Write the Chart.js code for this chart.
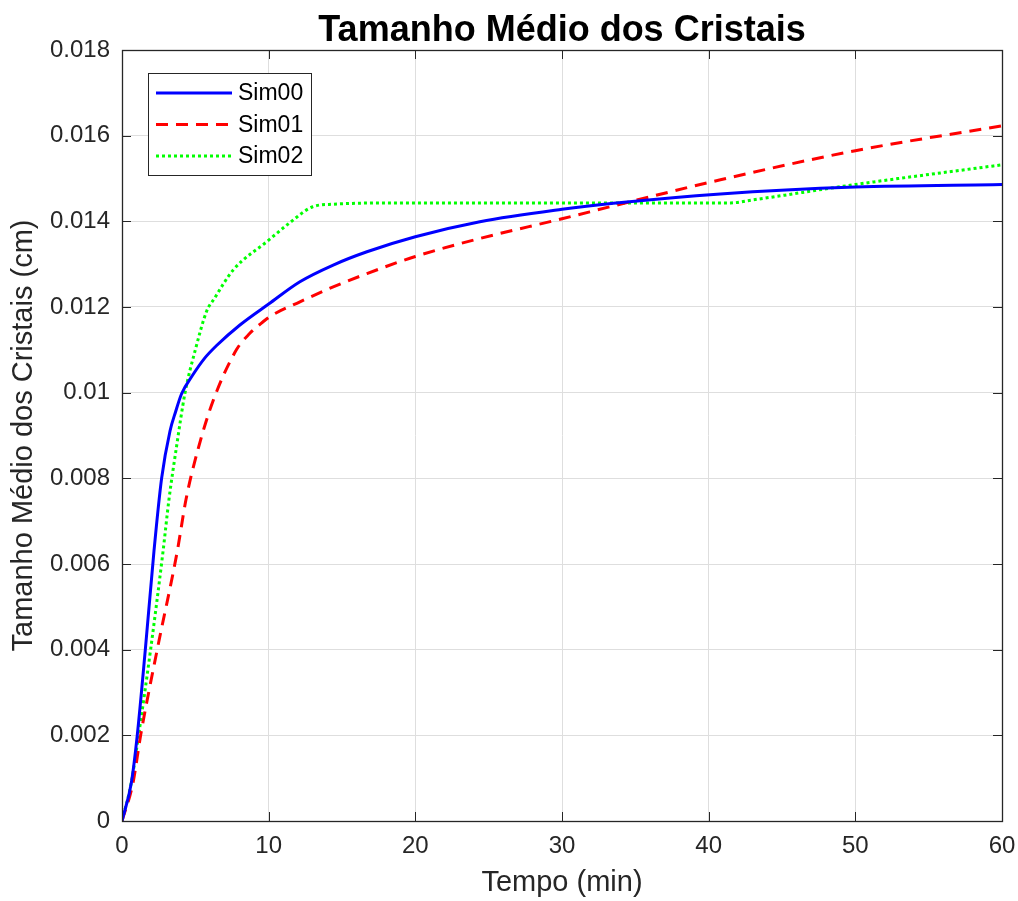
<!DOCTYPE html>
<html>
<head>
<meta charset="utf-8">
<script src="https://cdn.jsdelivr.net/npm/chart.js@4/dist/chart.umd.min.js"></script>
<style>
  html, body { margin: 0; padding: 0; background: #fff; }
  #wrap { width: 1018px; height: 901px; }
</style>
</head>
<body>
<div id="wrap"><canvas id="myChart" width="1018" height="901"></canvas></div>
<script>
var titulo = "Tamanho Médio dos Cristais";
var xTicks = [0, 10, 20, 30, 40, 50, 60];
var yTicks = [0, 0.002, 0.004, 0.006, 0.008, 0.01, 0.012, 0.014, 0.016, 0.018];

// Sim00
var tempo00 = [0, 0.64, 1.04, 1.59, 2.18, 2.7, 3.27, 3.65, 4.07, 4.8, 5.6, 6.45, 8.04, 10, 12.13, 14.4, 16.7, 20, 24.4, 30, 33.5, 40.8, 50, 60];
var sim00 = [0, 0.0009, 0.002, 0.004, 0.0063, 0.008, 0.0091, 0.00955, 0.00998, 0.0104, 0.01079, 0.0111, 0.01158, 0.01207, 0.01259, 0.01298, 0.01329, 0.01364, 0.01399, 0.01428, 0.01442, 0.01464, 0.0148, 0.01486];

// Sim01
var tempo01 = [0, 0.75, 1.27, 2.4, 3.77, 4.36, 5.2, 6.2, 7.8, 8.7, 9.6, 10.1, 12.13, 14.4, 16.7, 20, 24.4, 30, 33.5, 40.8, 50, 60];
var sim01 = [0, 0.00089, 0.002, 0.004, 0.0063, 0.0075, 0.0087, 0.0098, 0.011, 0.01138, 0.01165, 0.01178, 0.01212, 0.01247, 0.01278, 0.01318, 0.0136, 0.01406, 0.01436, 0.01497, 0.01565, 0.01623];

// Sim02
var tempo02 = [0, 0.63, 1.13, 1.95, 2.8, 3.2, 3.7, 4.3, 5.0, 5.77, 6.3, 7.57, 10, 11.45, 13, 14.4, 19, 41.5, 43, 50, 60];
var sim02 = [0, 0.00089, 0.002, 0.004, 0.0063, 0.0075, 0.0087, 0.01, 0.011, 0.0119, 0.0122, 0.01286, 0.01356, 0.01397, 0.01434, 0.0144, 0.01443, 0.01443, 0.0145, 0.01486, 0.01532];

var eixoCor = "#262626";
var fonte = "'Liberation Sans', Arial, Helvetica, sans-serif";

function pares(xs, ys) {
    return xs.map(function(x, i) { return { x: x, y: ys[i] }; });
}

// moldura, marcas internas, titulo e legenda ao estilo MATLAB
var estiloMatlab = {
    id: "estiloMatlab",
    afterDraw: function(chart) {
        var ctx = chart.ctx;
        var a = chart.chartArea;
        var sx = chart.scales.x, sy = chart.scales.y;
        var tl = 9;

        ctx.save();
        ctx.strokeStyle = eixoCor;
        ctx.lineWidth = 1;
        ctx.beginPath();
        xTicks.forEach(function(v) {
            var px = Math.round(sx.getPixelForValue(v)) + 0.5;
            ctx.moveTo(px, a.bottom); ctx.lineTo(px, a.bottom - tl);
            ctx.moveTo(px, a.top); ctx.lineTo(px, a.top + tl);
        });
        yTicks.forEach(function(v) {
            var py = Math.round(sy.getPixelForValue(v)) + 0.5;
            ctx.moveTo(a.left, py); ctx.lineTo(a.left + tl, py);
            ctx.moveTo(a.right, py); ctx.lineTo(a.right - tl, py);
        });
        ctx.stroke();
        ctx.lineWidth = 1.3;
        ctx.strokeRect(Math.round(a.left) + 0.5, Math.round(a.top) + 0.5,
                       Math.round(a.right - a.left), Math.round(a.bottom - a.top));

        // titulo
        ctx.fillStyle = "#000";
        ctx.font = "bold 36px " + fonte;
        ctx.textAlign = "center";
        ctx.textBaseline = "alphabetic";
        ctx.fillText(titulo, (a.left + a.right) / 2, 41);

        // legenda
        var lx = 148, ly = 73, lw = 163, lh = 102;
        ctx.fillStyle = "#fff";
        ctx.fillRect(lx, ly, lw, lh);
        ctx.strokeStyle = eixoCor;
        ctx.lineWidth = 1;
        ctx.strokeRect(lx + 0.5, ly + 0.5, lw, lh);
        ctx.font = "23px " + fonte;
        ctx.textAlign = "left";
        ctx.textBaseline = "middle";
        chart.data.datasets.forEach(function(ds, i) {
            var ry = ly + 20 + i * 31.5;
            ctx.strokeStyle = ds.borderColor;
            ctx.lineWidth = ds.borderWidth;
            ctx.setLineDash(ds.borderDash || []);
            ctx.beginPath();
            ctx.moveTo(lx + 8, ry);
            ctx.lineTo(lx + 84, ry);
            ctx.stroke();
            ctx.setLineDash([]);
            ctx.fillStyle = "#000";
            ctx.fillText(ds.label, lx + 90, ry + 1);
        });
        ctx.restore();
    }
};

var ctx = document.getElementById("myChart").getContext("2d");
var grafico = new Chart(ctx, {
    type: "scatter",
    data: {
        datasets: [
            {
                label: "Sim00",
                data: pares(tempo00, sim00),
                showLine: true,
                borderColor: "#0000ff",
                borderWidth: 3,
                pointRadius: 0,
                cubicInterpolationMode: "monotone"
            },
            {
                label: "Sim01",
                data: pares(tempo01, sim01),
                showLine: true,
                borderColor: "#ff0000",
                borderWidth: 3,
                borderDash: [12, 8],
                pointRadius: 0,
                cubicInterpolationMode: "monotone"
            },
            {
                label: "Sim02",
                data: pares(tempo02, sim02),
                showLine: true,
                borderColor: "#00ff00",
                borderWidth: 3,
                borderDash: [3, 3],
                pointRadius: 0,
                cubicInterpolationMode: "monotone"
            }
        ]
    },
    options: {
        responsive: false,
        animation: false,
        layout: { padding: { top: 50, right: 16, bottom: 0, left: 0 } },
        plugins: {
            legend: { display: false },
            title: { display: false },
            tooltip: { enabled: false }
        },
        scales: {
            x: {
                type: "linear",
                min: 0,
                max: 60,
                afterBuildTicks: function(scale) {
                    scale.ticks = xTicks.map(function(v) { return { value: v }; });
                },
                afterFit: function(scale) {
                    scale.height = 80;
                    scale.paddingLeft = 0;
                    scale.paddingRight = 0;
                },
                grid: { color: "#dedede", drawTicks: false },
                border: { display: false },
                ticks: {
                    color: eixoCor,
                    padding: 11,
                    maxRotation: 0,
                    font: { family: fonte, size: 24 }
                },
                title: {
                    display: true,
                    text: "Tempo (min)",
                    color: eixoCor,
                    padding: { top: 0, bottom: 1 },
                    font: { family: fonte, size: 29 }
                }
            },
            y: {
                type: "linear",
                min: 0,
                max: 0.018,
                afterBuildTicks: function(scale) {
                    scale.ticks = yTicks.map(function(v) { return { value: v }; });
                },
                afterFit: function(scale) {
                    scale.width = 122;
                    scale.paddingTop = 0;
                    scale.paddingBottom = 0;
                },
                grid: { color: "#dedede", drawTicks: false },
                border: { display: false },
                ticks: {
                    color: eixoCor,
                    padding: 12,
                    font: { family: fonte, size: 24 },
                    callback: function(v) { return String(parseFloat(Number(v).toFixed(3))); }
                },
                title: {
                    display: true,
                    text: "Tamanho Médio dos Cristais (cm)",
                    color: eixoCor,
                    padding: { top: 7, bottom: 0 },
                    font: { family: fonte, size: 29 }
                }
            }
        }
    },
    plugins: [estiloMatlab]
});
</script>
</body>
</html>
